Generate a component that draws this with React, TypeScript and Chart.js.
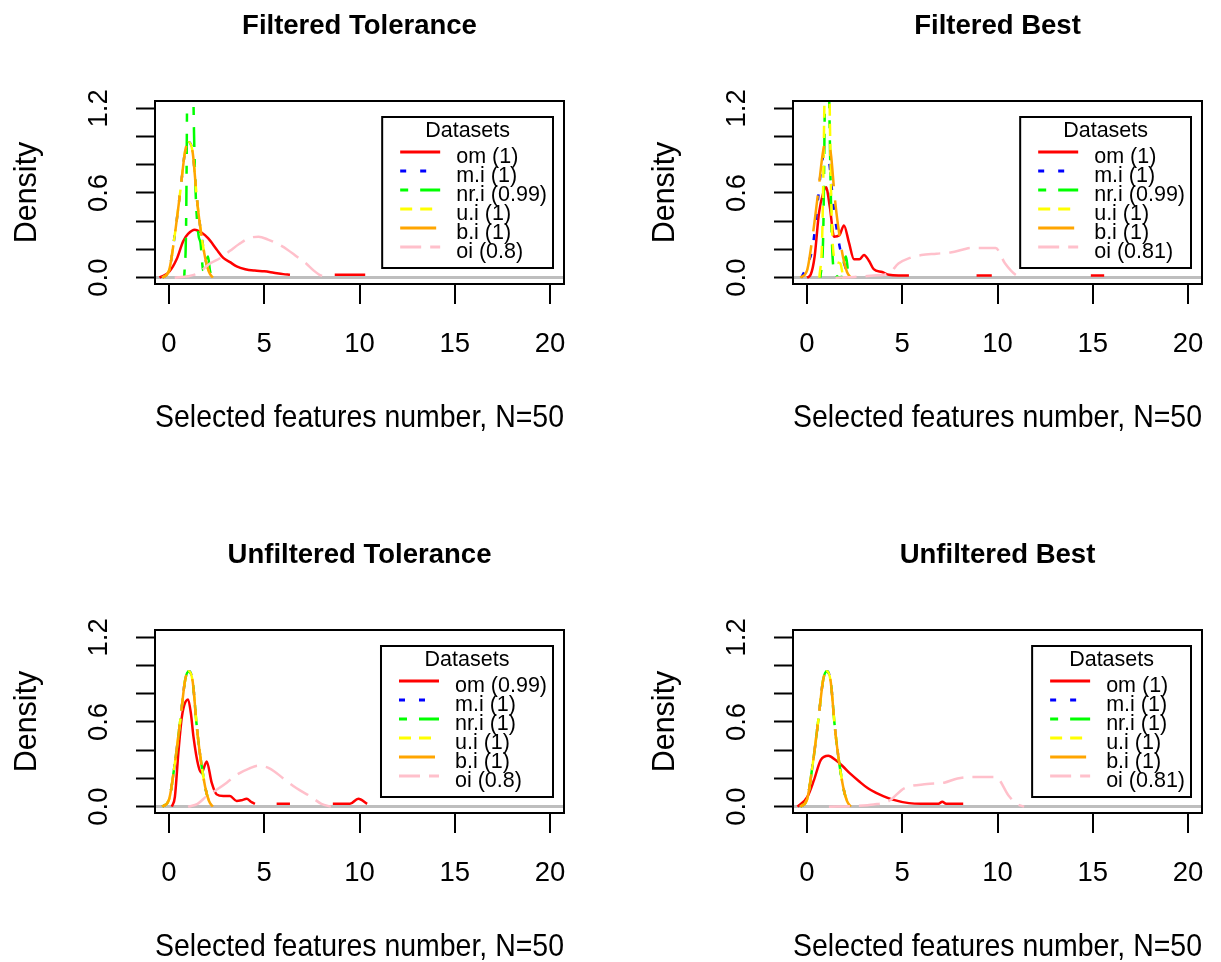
import React, { useEffect, useRef } from "react";
import { Chart, registerables } from "chart.js";

Chart.register(...registerables);

const FONT = '"Liberation Sans", Arial, Helvetica, sans-serif';

// ---- text ----
const panelTitles = ["Filtered Tolerance", "Filtered Best", "Unfiltered Tolerance", "Unfiltered Best"];
const xAxisTitle = "Selected features number, N=50";
const yAxisTitle = "Density";
const legendTitle = "Datasets";
const seriesNames = ["om", "m.i", "nr.i", "u.i", "b.i", "oi"];
const scoresFT = ["1", "1", "0.99", "1", "1", "0.8"];
const scoresFB = ["1", "1", "0.99", "1", "1", "0.81"];
const scoresUT = ["0.99", "1", "1", "1", "1", "0.8"];
const scoresUB = ["1", "1", "1", "1", "1", "0.81"];

// ---- ticks ----
const yLabelValues = [0, 0.6, 1.2];
const yLabelTexts = ["0.0", "0.6", "1.2"];

// ---- series styles ----
const seriesColors = ["#FF0000", "#0000FF", "#00FF00", "#FFFF00", "#FFA500", "#FFC0CB"];
const seriesDash = [[], [6, 14], [8, 12, 20, 12], [12, 8], [36, 14], [21, 9]];

// ---- data (density estimates) ----
const peakX = [-0.35, 0, 0.3, 0.6, 0.85, 1.05, 1.25, 1.45, 1.6, 1.9, 2.1, 2.3];
const peakY = [0, 0.05, 0.3, 0.62, 0.9, 0.96, 0.88, 0.58, 0.4, 0.14, 0.04, 0];

// Filtered Tolerance
const ftOmX = [-0.5, 0, 0.4, 0.75, 1.0, 1.35, 1.7, 2.05, 2.5, 2.85, 3.2, 3.55, 4.0, 4.5, 5.0, 5.5, 6.0, 6.35, 7.5, 8.7, 9.5, 10.3];
const ftOmY = [0, 0.04, 0.13, 0.26, 0.31, 0.34, 0.32, 0.28, 0.2, 0.14, 0.11, 0.08, 0.06, 0.05, 0.045, 0.035, 0.025, 0.02, null, 0.02, 0.02, 0.02];
const ftNriX = [0.8, 0.9, 0.95, 1.0, 1.1, 1.2, 1.28, 1.4, 1.55, 1.65, 1.8, 1.95, 2.05, 2.15, 2.3];
const ftNriY = [0, 0.4, 1.3, 2.4, 3.0, 2.4, 1.3, 0.6, 0.3, 0.25, 0.05, 0.12, 0.15, 0.05, 0];
const ftOiX = [0.3, 1.0, 1.5, 2.15, 2.7, 3.2, 3.7, 4.2, 4.7, 5.2, 5.7, 6.2, 6.7, 7.2, 7.6, 7.9, 8.45];
const ftOiY = [0, 0.01, 0.03, 0.1, 0.14, 0.19, 0.24, 0.28, 0.29, 0.27, 0.24, 0.2, 0.15, 0.1, 0.05, 0.02, 0];

// Filtered Best
const fbOmX = [0, 0.19, 0.4, 0.63, 0.85, 1.0, 1.2, 1.42, 1.7, 1.94, 2.2, 2.47, 2.75, 2.99, 3.25, 3.5, 3.94, 4.3, 4.8, 5.35, 7, 8.9, 9.3, 9.7, 12, 14.9, 15.2, 15.6];
const fbOmY = [0, 0.02, 0.15, 0.46, 0.6, 0.64, 0.5, 0.29, 0.3, 0.37, 0.25, 0.13, 0.13, 0.16, 0.12, 0.06, 0.04, 0.02, 0.015, 0.015, null, 0.015, 0.015, 0.015, null, 0.015, 0.015, 0.015];
const fbMiX = [-0.3, 0.05, 0.3, 0.55, 0.8, 1.0, 1.15, 1.4, 1.7, 2.0, 2.25];
const fbMiY = [0, 0.1, 0.22, 0.52, 0.83, 0.88, 0.83, 0.5, 0.23, 0.08, 0];
const fbNriX = [0.7, 0.85, 0.95, 1.05, 1.15, 1.3, 1.45, 1.8, 1.95, 2.05, 2.15, 2.3];
const fbNriY = [0, 0.3, 1.4, 2.4, 1.4, 0.3, 0.03, 0, 0.12, 0.15, 0.05, 0];
const fbUiX = [0.65, 0.8, 0.95, 1.05, 1.15, 1.3, 1.5, 1.75, 1.9];
const fbUiY = [0, 0.3, 1.6, 2.6, 1.6, 0.4, 0.12, 0.1, 0];
const fbOiX = [1.5, 2.5, 3.5, 4.3, 4.8, 5.4, 6.0, 6.8, 7.6, 8.2, 8.6, 9.2, 9.9, 10.4, 10.95, 11.4];
const fbOiY = [0, 0.005, 0.015, 0.03, 0.1, 0.14, 0.16, 0.17, 0.18, 0.2, 0.21, 0.21, 0.21, 0.1, 0.02, 0];

// Unfiltered Tolerance
const utOmX = [0.15, 0.31, 0.49, 0.66, 0.8, 1.0, 1.15, 1.28, 1.54, 1.71, 1.98, 2.24, 2.5, 2.85, 3.2, 3.55, 3.8, 4.08, 4.3, 4.51, 5.0, 5.65, 6.35, 7.5, 8.6, 9.5, 9.94, 10.4];
const utOmY = [0, 0.07, 0.38, 0.62, 0.72, 0.76, 0.66, 0.5, 0.29, 0.24, 0.32, 0.17, 0.087, 0.075, 0.075, 0.04, 0.045, 0.056, 0.035, 0.02, null, 0.02, 0.02, null, 0.02, 0.02, 0.056, 0.02];
const utOiX = [1.0, 1.5, 1.98, 2.5, 3.03, 3.6, 4.2, 4.7, 5.3, 6.0, 6.7, 7.4, 8.0, 8.5];
const utOiY = [0, 0.02, 0.075, 0.12, 0.17, 0.23, 0.27, 0.29, 0.27, 0.2, 0.13, 0.075, 0.02, 0];

// Unfiltered Best
const ubOmX = [-0.5, 0.02, 0.37, 0.72, 1.12, 1.5, 1.85, 2.3, 2.73, 3.2, 3.6, 4.0, 4.5, 5.35, 6.0, 6.9, 7.1, 7.3, 8.2];
const ubOmY = [0, 0.07, 0.19, 0.33, 0.36, 0.33, 0.29, 0.23, 0.18, 0.13, 0.1, 0.075, 0.05, 0.025, 0.02, 0.02, 0.035, 0.02, 0.02];
const ubOiX = [1.15, 2.5, 3.5, 4.3, 5.1, 6.3, 7.2, 7.9, 8.6, 9.2, 9.9, 10.6, 11.0, 11.4];
const ubOiY = [0, 0.005, 0.015, 0.04, 0.13, 0.16, 0.17, 0.2, 0.21, 0.21, 0.21, 0.075, 0.02, 0];

type Series = [number[], (number | null)[]];

const panels: { title: string; scores: string[]; series: Series[]; left: number; top: number }[] = [
  {
    title: panelTitles[0], scores: scoresFT, left: 0, top: 0,
    series: [[ftOmX, ftOmY], [peakX, peakY], [ftNriX, ftNriY], [peakX, peakY], [peakX, peakY], [ftOiX, ftOiY]],
  },
  {
    title: panelTitles[1], scores: scoresFB, left: 638, top: 0,
    series: [[fbOmX, fbOmY], [fbMiX, fbMiY], [fbNriX, fbNriY], [fbUiX, fbUiY], [peakX, peakY], [fbOiX, fbOiY]],
  },
  {
    title: panelTitles[2], scores: scoresUT, left: 0, top: 529,
    series: [[utOmX, utOmY], [peakX, peakY], [peakX, peakY], [peakX, peakY], [peakX, peakY], [utOiX, utOiY]],
  },
  {
    title: panelTitles[3], scores: scoresUB, left: 638, top: 529,
    series: [[ubOmX, ubOmY], [peakX, peakY], [peakX, peakY], [peakX, peakY], [peakX, peakY], [ubOiX, ubOiY]],
  },
];

const boxPlugin = {
  id: "plotBox",
  afterDatasetsDraw(chart: any) {
    const { ctx, chartArea } = chart;
    ctx.save();
    ctx.strokeStyle = "#000";
    ctx.lineWidth = 2;
    ctx.strokeRect(chartArea.left, chartArea.top, chartArea.right - chartArea.left, chartArea.bottom - chartArea.top);
    ctx.restore();
  },
};

const boxLegendPlugin = {
  id: "boxLegend",
  afterDraw(chart: any) {
    const { ctx, chartArea } = chart;
    const ds = chart.data.datasets;
    ctx.save();
    ctx.font = `21.5px ${FONT}`;
    let textW = 0;
    ds.forEach((d: any) => { textW = Math.max(textW, ctx.measureText(d.label).width); });
    const w = 18 + 40 + 16 + textW + 6;
    const right = chartArea.right - 11;
    const left = right - w;
    const top = chartArea.top + 16;
    const h = 151;
    ctx.strokeStyle = "#000";
    ctx.lineWidth = 2;
    ctx.strokeRect(left, top, w, h);
    ctx.fillStyle = "#000";
    ctx.textAlign = "center";
    ctx.textBaseline = "middle";
    ctx.fillText(legendTitle, left + w / 2, top + 14);
    ds.forEach((d: any, i: number) => {
      const y = top + 35 + i * 19;
      ctx.beginPath();
      ctx.setLineDash(d.borderDash || []);
      ctx.strokeStyle = d.borderColor;
      ctx.lineWidth = 3;
      ctx.moveTo(left + 18, y);
      ctx.lineTo(left + 58, y);
      ctx.stroke();
      ctx.setLineDash([]);
      ctx.fillStyle = "#000";
      ctx.textAlign = "left";
      ctx.fillText(d.label, left + 74, y + 5);
    });
    ctx.restore();
  },
};

function Panel({ cfg }: { cfg: (typeof panels)[number] }) {
  const ref = useRef<HTMLCanvasElement | null>(null);
  useEffect(() => {
    if (!ref.current) return;
    const datasets = cfg.series.map((s, i) => ({
      label: `${seriesNames[i]} (${cfg.scores[i]})`,
      data: s[0].map((x, k) => ({ x, y: s[1][k] })),
      borderColor: seriesColors[i],
      borderDash: seriesDash[i],
      borderWidth: 2.5,
      pointRadius: 0,
      fill: false,
      spanGaps: false,
      tension: 0.3,
      cubicInterpolationMode: "monotone" as const,
      order: 6 - i,
    }));
    const chart = new Chart(ref.current, {
      type: "line",
      data: { datasets },
      options: {
        responsive: false,
        animation: false,
        events: [],
        layout: { padding: { left: 0, right: 46, top: 0, bottom: 0 } },
        plugins: {
          legend: { display: false },
          tooltip: { enabled: false },
          title: {
            display: true,
            text: cfg.title,
            fullSize: false,
            color: "#000",
            font: { family: FONT, size: 27.5, weight: "bold" },
            padding: { top: 10, bottom: 58 },
          },
        },
        scales: {
          x: {
            type: "linear",
            min: -0.735,
            max: 20.735,
            afterFit: (s: any) => { s.height = 197; },
            border: { display: false },
            grid: { drawOnChartArea: false, drawTicks: true, tickLength: 20, tickColor: "#000", tickWidth: 2, color: "#000", lineWidth: 2 },
            ticks: {
              stepSize: 5, includeBounds: false, autoSkip: false, minRotation: 0, maxRotation: 0,
              padding: 24, color: "#000", font: { family: FONT, size: 27.5 },
              callback: (v: any) => String(v),
            },
            title: { display: true, text: xAxisTitle, color: "#000", font: { family: FONT, size: 31.5 }, padding: { top: 0, bottom: 44 } },
          },
          y: {
            type: "linear",
            min: -0.045,
            max: 1.252,
            afterFit: (s: any) => { s.width = 155; },
            border: { display: false },
            grid: {
              drawOnChartArea: true, drawTicks: true, tickLength: 19, tickColor: "#000", tickWidth: 2,
              color: (c: any) => (c.tick && Math.abs(c.tick.value) < 1e-9 ? "#BEBEBE" : "rgba(0,0,0,0)"),
              lineWidth: (c: any) => (c.tick && Math.abs(c.tick.value) < 1e-9 ? 3 : 1),
            },
            ticks: {
              stepSize: 0.2, includeBounds: false, autoSkip: false, minRotation: 90, maxRotation: 90,
              crossAlign: "center", padding: 17, color: "#000", font: { family: FONT, size: 27.5 },
              callback: (v: any) => {
                const idx = yLabelValues.findIndex((t) => Math.abs(t - Number(v)) < 1e-6);
                return idx >= 0 ? yLabelTexts[idx] : "";
              },
            },
            title: { display: true, text: yAxisTitle, color: "#000", font: { family: FONT, size: 30.5 }, padding: { top: 9, bottom: 0 } },
          },
        },
      } as any,
      plugins: [boxPlugin, boxLegendPlugin],
    });
    return () => chart.destroy();
  }, [cfg]);
  return (
    <canvas
      ref={ref}
      width={610}
      height={481}
      style={{ position: "absolute", left: cfg.left, top: cfg.top, width: 610, height: 481 }}
    />
  );
}

export default function App() {
  return (
    <div style={{ position: "absolute", left: 0, top: 0, width: 1221, height: 962, overflow: "hidden", background: "#fff" }}>
      {panels.map((p, i) => (
        <Panel key={i} cfg={p} />
      ))}
    </div>
  );
}
